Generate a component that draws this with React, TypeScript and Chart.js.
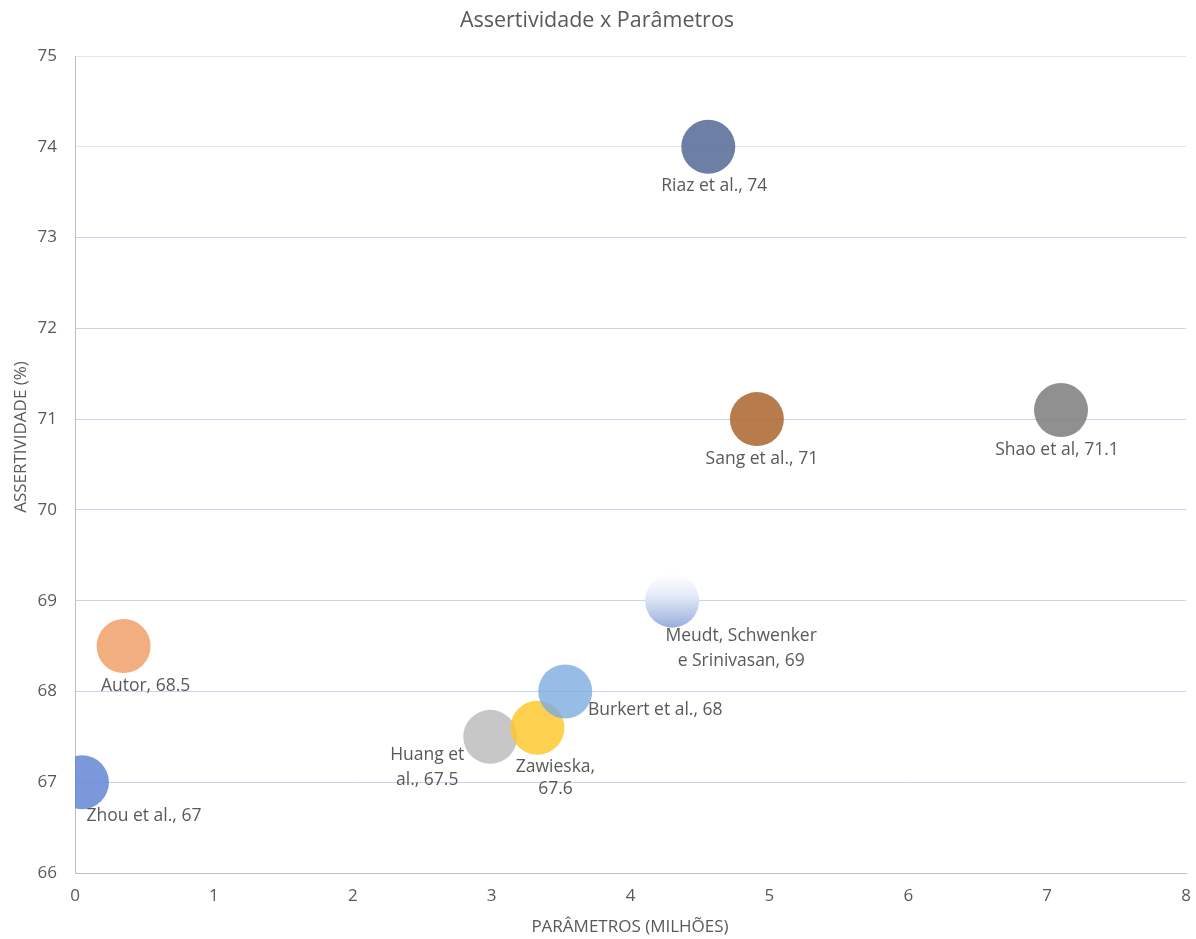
import React, { useEffect, useRef } from "react";
import { Chart, registerables } from "chart.js";

Chart.register(...registerables);

const names = [
  "Huang et al.",
  "Zawieska",
  "Burkert et al.",
  "Zhou et al.",
  "Autor",
  "Meudt, Schwenker e Srinivasan",
  "Riaz et al.",
  "Sang et al.",
  "Shao et al",
];
const paramsMillions = [2.99, 3.33, 3.53, 0.05, 0.35, 4.3, 4.56, 4.91, 7.1];
const assertividade = [67.5, 67.6, 68, 67, 68.5, 69, 74, 71, 71.1];
const bubbleSizes = [27, 27, 27, 27, 27, 27, 27, 27, 27];
const yTicks = [66, 67, 68, 69, 70, 71, 72, 73, 74, 75];
const xTicks = [0, 1, 2, 3, 4, 5, 6, 7, 8];

const TITLE = "Assertividade x Parâmetros";
const X_TITLE = "PARÂMETROS (MILHÕES)";
const Y_TITLE = "ASSERTIVIDADE (%)";

// styles
const colors = [
  "rgba(185,185,185,0.8)",
  "rgba(252,198,40,0.82)",
  "rgba(125,172,225,0.8)",
  "rgba(100,135,212,0.85)",
  "rgba(240,160,105,0.85)",
  "gradient",
  "rgba(85,105,150,0.85)",
  "rgba(172,100,45,0.85)",
  "rgba(125,125,125,0.85)",
];
// [dx, dy, lineGap, breakAfterWord]
const labelLayout: [number, number, number, number][] = [
  [-63, 18, 25, 2],
  [18, 39, 22, 1],
  [90, 19, 22, 0],
  [62, 34, 22, 0],
  [22, 40, 22, 0],
  [69, 35, 25, 2],
  [6, 39, 22, 0],
  [5, 40, 22, 0],
  [-4, 40, 22, 0],
];

const TEXT = "#595959";
const FONT = "'Open Sans', sans-serif";

export default function App() {
  const ref = useRef<HTMLCanvasElement>(null);
  useEffect(() => {
    document.body.style.margin = "0";
    const canvas = ref.current!;
    const labelsPlugin = {
      id: "customText",
      afterDatasetsDraw(chart: any) {
        const ctx = chart.ctx;
        ctx.save();
        ctx.fillStyle = TEXT;
        ctx.textBaseline = "middle";
        ctx.textAlign = "center";
        ctx.font = `17.5px ${FONT}`;
        const meta = chart.getDatasetMeta(0);
        meta.data.forEach((el: any, i: number) => {
          const [dx, dy, gap, br] = labelLayout[i];
          const text = `${names[i]}, ${assertividade[i]}`;
          const words = text.split(" ");
          const lines = br > 0 ? [words.slice(0, br).join(" "), words.slice(br).join(" ")] : [text];
          lines.forEach((ln, k) => ctx.fillText(ln, el.x + dx, el.y + dy + k * gap));
        });
        // title
        ctx.font = `21.5px ${FONT}`;
        ctx.fillText(TITLE, 597, 21);
        // x title
        ctx.font = `17px ${FONT}`;
        ctx.fillText(X_TITLE, 630, 927);
        // y title
        ctx.translate(21, 437);
        ctx.rotate(-Math.PI / 2);
        ctx.fillText(Y_TITLE, 0, 0);
        ctx.restore();
      },
    };
    const chart = new Chart(canvas, {
      type: "bubble",
      data: {
        datasets: [
          {
            data: paramsMillions.map((x, i) => ({ x, y: assertividade[i], r: bubbleSizes[i] })),
            backgroundColor: (c: any) => {
              const col = colors[c.dataIndex];
              if (col !== "gradient") return col;
              const ys = c.chart.scales && c.chart.scales.y;
              const fallback = "rgba(200,213,238,0.95)";
              if (!ys || !c.raw) return fallback;
              const py = ys.getPixelForValue(c.raw.y);
              const r = c.raw.r;
              if (!Number.isFinite(py) || !Number.isFinite(r)) return fallback;
              const g = c.chart.ctx.createLinearGradient(0, py - r, 0, py + r);
              g.addColorStop(0, "rgba(255,255,255,0.97)");
              g.addColorStop(0.4, "rgba(228,235,248,0.97)");
              g.addColorStop(1, "rgba(150,172,218,0.97)");
              return g;
            },
            borderWidth: 0,
            hoverBorderWidth: 0,
          },
        ],
      },
      options: {
        responsive: false,
        animation: false,
        events: [],
        layout: { autoPadding: false, padding: { top: 56, right: 10, left: 0, bottom: 0 } },
        plugins: { legend: { display: false }, tooltip: { enabled: false }, title: { display: false } },
        scales: {
          x: {
            type: "linear",
            min: 0,
            max: 8,
            afterBuildTicks: (s: any) => { s.ticks = xTicks.map((v) => ({ value: v })); },
            afterFit: (s: any) => { s.height = 66; s.paddingLeft = 0; s.paddingRight = 0; },
            grid: { display: false, drawTicks: false },
            border: { display: true, color: "#bfbfbf", width: 1 },
            ticks: { color: TEXT, font: { family: FONT, size: 17 }, padding: 13 },
          },
          y: {
            type: "linear",
            min: 66,
            max: 75,
            afterBuildTicks: (s: any) => { s.ticks = yTicks.map((v) => ({ value: v })); },
            afterFit: (s: any) => { s.width = 75; s.paddingTop = 0; s.paddingBottom = 0; },
            grid: {
              drawTicks: false,
              color: (c: any) => (c.tick && c.tick.value >= 74 ? "#e6e6e6" : "#c9d5e7"),
            },
            border: { display: true, color: "#bfbfbf", width: 1 },
            ticks: { color: TEXT, font: { family: FONT, size: 17 }, padding: 18 },
          },
        },
      },
      plugins: [labelsPlugin],
    });
    return () => chart.destroy();
  }, []);
  return (
    <div style={{ width: 1196, height: 939 }}>
      <canvas ref={ref} width={1196} height={939} style={{ display: "block" }} />
    </div>
  );
}
